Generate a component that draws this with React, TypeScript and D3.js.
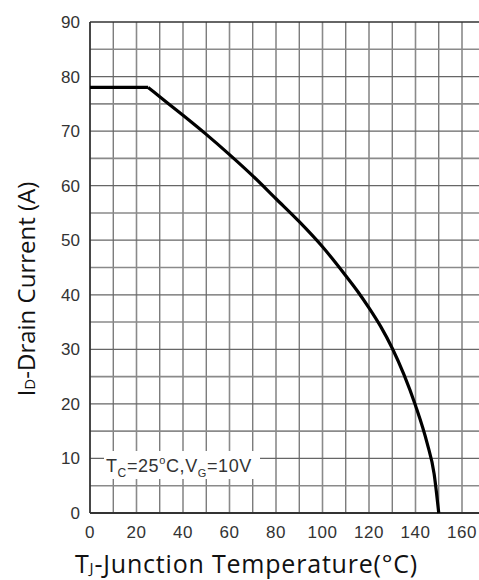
import React from "react";
import * as d3 from "d3";

const tempC = [0, 25, 30, 40, 50, 60, 70, 80, 90, 100, 110, 115, 120, 125, 130, 135, 140, 145, 148, 150];
const currentA = [78, 78, 76.3, 72.9, 69.4, 65.7, 61.8, 57.6, 53.4, 48.8, 43.5, 40.7, 37.6, 34.2, 30.2, 25.4, 19.7, 12.8, 7.2, 0];
const xTicks = [0, 20, 40, 60, 80, 100, 120, 140, 160];
const yTicks = [0, 10, 20, 30, 40, 50, 60, 70, 80, 90];
const xGrid = [10, 20, 30, 40, 50, 60, 70, 80, 90, 100, 110, 120, 130, 140, 150, 160];
const yGrid = [5, 10, 15, 20, 25, 30, 35, 40, 45, 50, 55, 60, 65, 70, 75, 80, 85];

const W = 479;
const H = 580;
const left = 90;
const top = 22;
const bottom = 513;
const plotRight = 479;

export default function App() {
  const x = d3.scaleLinear().domain([0, 160]).range([left, 462]);
  const y = d3.scaleLinear().domain([0, 90]).range([bottom, top]);
  const pts: [number, number][] = tempC.map((t, i) => [t, currentA[i]]);
  const flatPts = pts.slice(0, 2);
  const curvePts = pts.slice(1);
  const flat = d3
    .line<[number, number]>()
    .x((d) => x(d[0]))
    .y((d) => y(d[1]));
  const curve = d3
    .line<[number, number]>()
    .x((d) => x(d[0]))
    .y((d) => y(d[1]))
    .curve(d3.curveMonotoneX);

  const tickFont = "Liberation Sans, Arial, sans-serif";
  const titleFont = "'Open Sans', 'Noto Sans', sans-serif";

  return (
    <svg
      width={W}
      height={H}
      style={{ position: "absolute", left: 0, top: 0, background: "#fff" }}
    >
      <rect x={0} y={0} width={W} height={H} fill="#fff" />
      {/* grid */}
      {xGrid.map((v) => (
        <line
          key={"vx" + v}
          x1={x(v)}
          x2={x(v)}
          y1={top}
          y2={bottom}
          stroke={v % 20 === 0 ? "#8a8a8a" : "#666"}
          strokeWidth={v % 20 === 0 ? 1.6 : 1.2}
        />
      ))}
      {yGrid.map((v) => (
        <line
          key={"hy" + v}
          x1={left}
          x2={plotRight}
          y1={y(v)}
          y2={y(v)}
          stroke={v % 10 === 0 ? "#666" : "#8a8a8a"}
          strokeWidth={v % 10 === 0 ? 1.2 : 1.6}
        />
      ))}
      {/* borders */}
      <line x1={left} x2={plotRight} y1={y(90)} y2={y(90)} stroke="#333" strokeWidth={1.6} />
      <line x1={left} x2={plotRight} y1={y(0)} y2={y(0)} stroke="#333" strokeWidth={1.8} />
      <line x1={left} x2={left} y1={top} y2={bottom} stroke="#333" strokeWidth={1.8} />

      {/* annotation with white background */}
      <rect x={104} y={451} width={156} height={28} fill="#fff" />
      <text x={106} y={472} fontFamily={tickFont} fontSize={18} fill="#333" letterSpacing={0.6}>
        <tspan>T</tspan>
        <tspan fontSize={12} dy={5}>C</tspan>
        <tspan dy={-5}>=25</tspan>
        <tspan fontSize={11} dy={-8}>o</tspan>
        <tspan dy={8}>C,V</tspan>
        <tspan fontSize={11} dy={5}>G</tspan>
        <tspan dy={-5}>=10V</tspan>
      </text>

      {/* curve */}
      <path d={flat(flatPts) || ""} fill="none" stroke="#000" strokeWidth={3.2} />
      <path d={curve(curvePts) || ""} fill="none" stroke="#000" strokeWidth={3.2} strokeLinejoin="round" />

      {/* y ticks */}
      {yTicks.map((v) => (
        <text
          key={"yt" + v}
          x={80}
          y={y(v)}
          dy="0.35em"
          textAnchor="end"
          fontFamily={tickFont}
          fontSize={17}
          fill="#333"
        >
          {v}
        </text>
      ))}
      {/* x ticks */}
      {xTicks.map((v) => (
        <text
          key={"xt" + v}
          x={x(v)}
          y={538}
          textAnchor="middle"
          fontFamily={tickFont}
          fontSize={17}
          fill="#333"
          letterSpacing={0.5}
        >
          {v}
        </text>
      ))}

      {/* x title */}
      <text x={75} y={573} fontFamily={titleFont} fontSize={25} fill="#111" letterSpacing={0.8}>
        <tspan>T</tspan>
        <tspan fontSize={15}>J</tspan>
        <tspan>-Junction Temperature(°C)</tspan>
      </text>

      {/* y title */}
      <text
        transform={`translate(35, 289) rotate(-90)`}
        textAnchor="middle"
        fontFamily={titleFont}
        fontSize={24}
        fill="#111"
      >
        <tspan>I</tspan>
        <tspan fontSize={15}>D</tspan>
        <tspan>-Drain Current (A)</tspan>
      </text>
    </svg>
  );
}
